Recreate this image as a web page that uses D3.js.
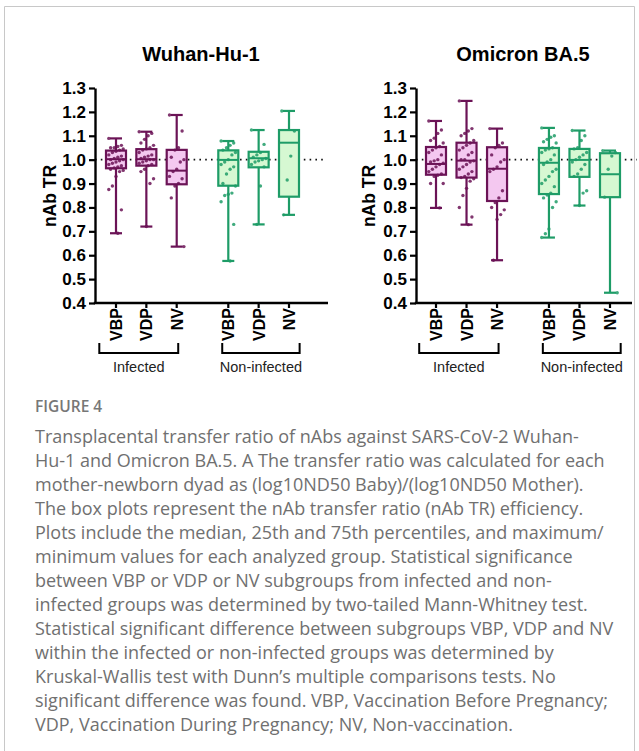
<!DOCTYPE html>
<html>
<head>
<meta charset="utf-8">
<script src="https://cdn.jsdelivr.net/npm/d3@7"></script>
<style>
  body { margin: 0; background: #fff; }
  svg { display: block; }
</style>
</head>
<body>
<div id="chart"></div>
<script>
// Figure 4: nAb transfer ratio box plots, two panels + caption.

const W = 639, H = 751;

const groupLabels = ['VBP', 'VDP', 'NV', 'VBP', 'VDP', 'NV'];
const groupKinds = ['inf', 'inf', 'inf', 'non', 'non', 'non'];
const slots = [0, 1, 2, 3.7, 4.7, 5.7];
const yTicks = [0.4, 0.5, 0.6, 0.7, 0.8, 0.9, 1.0, 1.1, 1.2, 1.3];
const bracketNames = ['Infected', 'Non-infected'];
const bracketSlots = [[-0.55, 2.05], [3.5, 6.05]];

// [min, q1, median, q3, max] per group
const wuhanStats = [
  [0.692, 0.964, 1.002, 1.038, 1.089],
  [0.720, 0.975, 1.002, 1.044, 1.117],
  [0.636, 0.897, 0.954, 1.041, 1.187],
  [0.576, 0.891, 0.999, 1.039, 1.078],
  [0.729, 0.968, 1.006, 1.033, 1.124],
  [0.769, 0.845, 1.071, 1.124, 1.204]
];
const omicronStats = [
  [0.798, 0.937, 0.982, 1.053, 1.162],
  [0.728, 0.925, 0.996, 1.071, 1.246],
  [0.579, 0.827, 0.962, 1.052, 1.130],
  [0.674, 0.856, 0.987, 1.049, 1.133],
  [0.808, 0.928, 0.999, 1.045, 1.122],
  [0.443, 0.843, 0.939, 1.027, 1.038]
];

// individual dyads (approximate)
const wuhanPoints = [
  [1.089, 1.06, 1.055, 1.05, 1.05, 1.045, 1.04, 1.035, 1.03, 1.02, 1.015, 1.01, 1.005, 1.0, 1.0,
   0.995, 0.99, 0.985, 0.98, 0.975, 0.97, 0.965, 0.96, 0.955, 0.95, 0.93, 0.89, 0.875, 0.79, 0.692],
  [1.117, 1.11, 1.10, 1.085, 1.07, 1.06, 1.05, 1.045, 1.04, 1.03, 1.02, 1.015, 1.01, 1.005, 1.0, 1.0,
   0.995, 0.99, 0.985, 0.98, 0.975, 0.96, 0.95, 0.92, 0.90, 0.72],
  [1.187, 1.12, 1.05, 1.04, 1.01, 1.0, 0.99, 0.96, 0.95, 0.93, 0.92, 0.90, 0.89, 0.84, 0.636],
  [1.078, 1.07, 1.06, 1.05, 1.04, 1.03, 1.02, 1.0, 0.99, 0.98, 0.97, 0.96, 0.94, 0.90, 0.89,
   0.86, 0.855, 0.85, 0.824, 0.729, 0.576],
  [1.124, 1.064, 1.03, 1.02, 1.01, 1.005, 1.0, 0.995, 0.99, 0.98, 0.97, 0.89, 0.729],
  [1.204, 1.12, 1.015, 0.915, 0.769]
];
const omicronPoints = [
  [1.162, 1.124, 1.11, 1.09, 1.08, 1.07, 1.055, 1.05, 1.04, 1.03, 1.02, 1.0, 0.995, 0.99, 0.985,
   0.98, 0.97, 0.96, 0.95, 0.94, 0.935, 0.93, 0.90, 0.90, 0.798],
  [1.246, 1.13, 1.12, 1.11, 1.10, 1.08, 1.07, 1.06, 1.05, 1.04, 1.03, 1.02, 1.0, 1.0, 0.995,
   0.99, 0.98, 0.97, 0.96, 0.95, 0.94, 0.93, 0.925, 0.92, 0.91, 0.88, 0.85, 0.80, 0.76, 0.728],
  [1.13, 1.07, 1.06, 1.05, 1.02, 1.0, 0.99, 0.97, 0.96, 0.95, 0.87, 0.84, 0.82, 0.80, 0.79, 0.77, 0.75, 0.579],
  [1.133, 1.10, 1.094, 1.085, 1.075, 1.07, 1.05, 1.045, 1.04, 1.03, 1.02, 1.0, 0.99, 0.98, 0.96,
   0.95, 0.93, 0.915, 0.90, 0.887, 0.86, 0.852, 0.84, 0.824, 0.80, 0.71, 0.69, 0.674],
  [1.122, 1.10, 1.08, 1.05, 1.045, 1.03, 1.02, 1.01, 1.0, 0.99, 0.98, 0.96, 0.94, 0.93, 0.87, 0.86, 0.808],
  [1.038, 1.03, 1.015, 0.96, 0.843, 0.443]
];

const captionHead = 'FIGURE 4';
const captionLines = [
  'Transplacental transfer ratio of nAbs against SARS-CoV-2 Wuhan-',
  'Hu-1 and Omicron BA.5. A The transfer ratio was calculated for each',
  'mother-newborn dyad as (log10ND50 Baby)/(log10ND50 Mother).',
  'The box plots represent the nAb transfer ratio (nAb TR) efficiency.',
  'Plots include the median, 25th and 75th percentiles, and maximum/',
  'minimum values for each analyzed group. Statistical significance',
  'between VBP or VDP or NV subgroups from infected and non-',
  'infected groups was determined by two-tailed Mann-Whitney test.',
  'Statistical significant difference between subgroups VBP, VDP and NV',
  'within the infected or non-infected groups was determined by',
  'Kruskal-Wallis test with Dunn\u2019s multiple comparisons tests. No',
  'significant difference was found. VBP, Vaccination Before Pregnancy;',
  'VDP, Vaccination During Pregnancy; NV, Non-vaccination.'
];

const COLORS = {
  inf: { stroke: '#6b1356', fill: '#f4c8f0' },
  non: { stroke: '#1e9c67', fill: '#d6f8d2' }
};
const FONT = '"Liberation Sans", Arial, sans-serif';

const svg = d3.select('#chart').append('svg')
  .attr('width', W).attr('height', H)
  .attr('viewBox', `0 0 ${W} ${H}`);

svg.append('rect').attr('width', W).attr('height', H).attr('fill', '#fff');

// thin frame round the figure
svg.append('path')
  .attr('d', `M4.5,${H + 2}V6.5H634.5V${H + 2}`)
  .attr('fill', 'none').attr('stroke', '#c8c8c8').attr('stroke-width', 1);

const y = d3.scaleLinear().domain([0.4, 1.3]).range([303, 88]);

const panels = [
  { title: 'Wuhan-Hu-1', titleX: 201, axisX: 95, axisEnd: 328, refEnd: 326, range: [116, 289], ylabX: 56, stats: wuhanStats, points: wuhanPoints },
  { title: 'Omicron BA.5', titleX: 523, axisX: 416, axisEnd: 632, refEnd: 637, range: [436, 610], ylabX: 375, stats: omicronStats, points: omicronPoints }
];

function drawPanel(p) {
  const x = d3.scaleLinear().domain([0, 5.7]).range(p.range);
  const g = svg.append('g');

  g.append('text')
    .attr('x', p.titleX).attr('y', 61)
    .attr('text-anchor', 'middle')
    .attr('font-family', FONT).attr('font-weight', 700).attr('font-size', 20)
    .text(p.title);

  g.append('text')
    .attr('transform', `translate(${p.ylabX},196) rotate(-90)`)
    .attr('text-anchor', 'middle')
    .attr('font-family', FONT).attr('font-weight', 700).attr('font-size', 17.5)
    .text('nAb TR');

  // dotted line at ratio 1.0
  g.append('line')
    .attr('x1', p.axisX).attr('x2', p.refEnd)
    .attr('y1', y(1)).attr('y2', y(1))
    .attr('stroke', '#111').attr('stroke-width', 1.6)
    .attr('stroke-dasharray', '1.6 4.2');

  // y axis
  const yAxis = d3.axisLeft(y).tickValues(yTicks).tickFormat(d3.format('.1f'))
    .tickSize(6).tickSizeOuter(0).tickPadding(3);
  const ya = g.append('g').attr('transform', `translate(${p.axisX},0)`).call(yAxis);
  ya.select('.domain').attr('stroke', '#000').attr('stroke-width', 2.4);
  ya.selectAll('.tick line').attr('stroke', '#000').attr('stroke-width', 2.2);
  ya.selectAll('.tick text')
    .attr('font-family', FONT).attr('font-weight', 700).attr('font-size', 17).attr('fill', '#000');

  // x axis baseline + ticks
  g.append('line')
    .attr('x1', p.axisX - 1.2).attr('x2', p.axisEnd)
    .attr('y1', y(0.4)).attr('y2', y(0.4))
    .attr('stroke', '#000').attr('stroke-width', 2.4);
  g.selectAll('line.xtick').data(slots).join('line')
    .attr('class', 'xtick')
    .attr('x1', d => x(d)).attr('x2', d => x(d))
    .attr('y1', y(0.4)).attr('y2', y(0.4) + 5)
    .attr('stroke', '#000').attr('stroke-width', 2.2);
  g.selectAll('text.xlab').data(groupLabels).join('text')
    .attr('class', 'xlab')
    .attr('transform', (d, i) => `translate(${x(slots[i]) + 6},${y(0.4) + 5}) rotate(-90)`)
    .attr('text-anchor', 'end')
    .attr('font-family', FONT).attr('font-weight', 700).attr('font-size', 16)
    .text(d => d);

  // group brackets
  bracketSlots.forEach((b, i) => {
    const x0 = x(b[0]), x1 = x(b[1]);
    g.append('path')
      .attr('d', `M${x0},343V353H${x1}V343`)
      .attr('fill', 'none').attr('stroke', '#000').attr('stroke-width', 2);
    g.append('text')
      .attr('x', (x0 + x1) / 2).attr('y', 372)
      .attr('text-anchor', 'middle')
      .attr('font-family', FONT).attr('font-size', 14.5).attr('fill', '#222')
      .text(bracketNames[i]);
  });

  // boxes
  const boxW = 20, capW = 10;
  p.stats.forEach((s, i) => {
    const c = COLORS[groupKinds[i]];
    const cx = x(slots[i]);
    const bg = g.append('g');
    bg.append('line')
      .attr('x1', cx).attr('x2', cx).attr('y1', y(s[0])).attr('y2', y(s[4]))
      .attr('stroke', c.stroke).attr('stroke-width', 2.2);
    [s[0], s[4]].forEach(v => {
      bg.append('line')
        .attr('x1', cx - capW / 2 - 1).attr('x2', cx + capW / 2 + 1)
        .attr('y1', y(v)).attr('y2', y(v))
        .attr('stroke', c.stroke).attr('stroke-width', 2.2);
    });
    bg.append('rect')
      .attr('x', cx - boxW / 2).attr('width', boxW)
      .attr('y', y(s[3])).attr('height', y(s[1]) - y(s[3]))
      .attr('fill', c.fill).attr('stroke', c.stroke).attr('stroke-width', 2.2);
    bg.append('line')
      .attr('x1', cx - boxW / 2).attr('x2', cx + boxW / 2)
      .attr('y1', y(s[2])).attr('y2', y(s[2]))
      .attr('stroke', c.stroke).attr('stroke-width', 2);

    // scatter of individual values, spread across the box width
    bg.selectAll('circle').data(p.points[i]).join('circle')
      .attr('cx', (d, j) => cx + (((j * 7) % 9) - 4) * 1.8)
      .attr('cy', d => y(d))
      .attr('r', 1.7)
      .attr('fill', c.stroke).attr('fill-opacity', 0.85);
  });
}

panels.forEach(drawPanel);

// caption
svg.append('text')
  .attr('x', 35).attr('y', 412)
  .attr('font-family', '"Open Sans", Lato, sans-serif').attr('font-weight', 600)
  .attr('font-size', 15.5).attr('fill', '#777')
  .text(captionHead);

svg.append('g').selectAll('text').data(captionLines).join('text')
  .attr('x', 35).attr('y', (d, i) => 443 + i * 24)
  .attr('font-family', '"Open Sans", Lato, sans-serif')
  .attr('font-size', 18).attr('fill', '#707070')
  .text(d => d);
</script>
</body>
</html>
